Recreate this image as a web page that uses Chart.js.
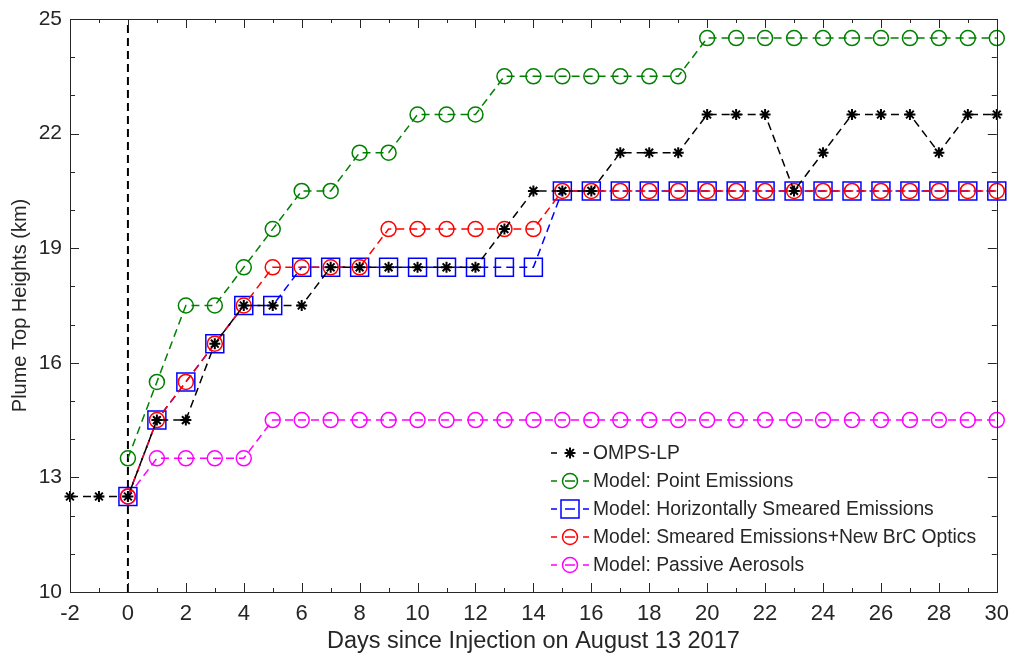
<!DOCTYPE html>
<html>
<head>
<meta charset="utf-8">
<script src="https://cdn.jsdelivr.net/npm/chart.js@4/dist/chart.umd.min.js"></script>
<style>
  html, body { margin: 0; padding: 0; background: #fff; }
  #wrap { width: 1011px; height: 656px; }
</style>
</head>
<body>
<div id="wrap"><canvas id="c" width="1011" height="656"></canvas></div>
<script>
// days relative to injection on Aug 13 2017
const obsDays = [-2, -1, 0, 1, 2, 3, 4, 5, 6, 7, 8, 9, 10, 11, 12, 13, 14, 15, 16,
                 17, 18, 19, 20, 21, 22, 23, 24, 25, 26, 27, 28, 29, 30];
const modelDays = [0, 1, 2, 3, 4, 5, 6, 7, 8, 9, 10, 11, 12, 13, 14, 15, 16,
                   17, 18, 19, 20, 21, 22, 23, 24, 25, 26, 27, 28, 29, 30];

// plume top heights (km)
const ompsLP = [12.5, 12.5, 12.5, 14.5, 14.5, 16.5, 17.5, 17.5, 17.5, 18.5, 18.5,
                18.5, 18.5, 18.5, 18.5, 19.5, 20.5, 20.5, 20.5, 21.5, 21.5, 21.5,
                22.5, 22.5, 22.5, 20.5, 21.5, 22.5, 22.5, 22.5, 21.5, 22.5, 22.5];
const pointEmissions = [13.5, 15.5, 17.5, 17.5, 18.5, 19.5, 20.5, 20.5, 21.5, 21.5,
                        22.5, 22.5, 22.5, 23.5, 23.5, 23.5, 23.5, 23.5, 23.5, 23.5,
                        24.5, 24.5, 24.5, 24.5, 24.5, 24.5, 24.5, 24.5, 24.5, 24.5, 24.5];
const smearedEmissions = [12.5, 14.5, 15.5, 16.5, 17.5, 17.5, 18.5, 18.5, 18.5, 18.5,
                          18.5, 18.5, 18.5, 18.5, 18.5, 20.5, 20.5, 20.5, 20.5, 20.5,
                          20.5, 20.5, 20.5, 20.5, 20.5, 20.5, 20.5, 20.5, 20.5, 20.5, 20.5];
const smearedBrC = [12.5, 14.5, 15.5, 16.5, 17.5, 18.5, 18.5, 18.5, 18.5, 19.5,
                    19.5, 19.5, 19.5, 19.5, 19.5, 20.5, 20.5, 20.5, 20.5, 20.5,
                    20.5, 20.5, 20.5, 20.5, 20.5, 20.5, 20.5, 20.5, 20.5, 20.5, 20.5];
const passiveAerosols = [12.5, 13.5, 13.5, 13.5, 13.5, 14.5, 14.5, 14.5, 14.5, 14.5,
                         14.5, 14.5, 14.5, 14.5, 14.5, 14.5, 14.5, 14.5, 14.5, 14.5,
                         14.5, 14.5, 14.5, 14.5, 14.5, 14.5, 14.5, 14.5, 14.5, 14.5, 14.5];

const seriesLabels = ['OMPS-LP', 'Model: Point Emissions', 'Model: Horizontally Smeared Emissions',
                      'Model: Smeared Emissions+New BrC Optics', 'Model: Passive Aerosols'];

const xMin = -2, xMax = 30, yMin = 10, yMax = 25;
const injectionDay = 0;

const AXIS = '#262626';
const FONT = '"Liberation Sans", Arial, sans-serif';
const DASH = [8, 5];

const toXY = (xs, ys) => xs.map((x, i) => ({ x: x, y: ys[i] }));

const legendItems = [
  { label: seriesLabels[0], color: '#000000', marker: 'star' },
  { label: seriesLabels[1], color: '#008000', marker: 'circle' },
  { label: seriesLabels[2], color: '#0000ff', marker: 'rect' },
  { label: seriesLabels[3], color: '#ff0000', marker: 'circle' },
  { label: seriesLabels[4], color: '#ff00ff', marker: 'circle' }
];

function drawMarker(ctx, type, x, y, color) {
  ctx.save();
  ctx.strokeStyle = color;
  ctx.setLineDash([]);
  ctx.beginPath();
  if (type === 'circle') {
    ctx.lineWidth = 1.5;
    ctx.arc(x, y, 7.5, 0, Math.PI * 2);
  } else if (type === 'rect') {
    ctx.lineWidth = 1.5;
    ctx.rect(x - 9, y - 9, 18, 18);
  } else {
    ctx.lineWidth = 2;
    const r = 5.5, d = r * Math.SQRT1_2;
    ctx.moveTo(x - r, y); ctx.lineTo(x + r, y);
    ctx.moveTo(x, y - r); ctx.lineTo(x, y + r);
    ctx.moveTo(x - d, y - d); ctx.lineTo(x + d, y + d);
    ctx.moveTo(x - d, y + d); ctx.lineTo(x + d, y - d);
  }
  ctx.stroke();
  ctx.restore();
}

// MATLAB style box with inward ticks, plus the in-axes legend
const boxAxes = {
  id: 'boxAxes',
  afterDraw(chart) {
    const ctx = chart.ctx;
    const a = chart.chartArea;
    const xs = chart.scales.x, ys = chart.scales.y;
    ctx.save();
    ctx.strokeStyle = AXIS;
    ctx.lineWidth = 1;
    ctx.strokeRect(Math.round(a.left) + 0.5, Math.round(a.top) + 0.5,
                   Math.round(a.right - a.left), Math.round(a.bottom - a.top));
    ctx.beginPath();
    for (let v = xMin; v <= xMax; v++) {
      const px = Math.round(xs.getPixelForValue(v)) + 0.5;
      const len = v % 2 === 0 ? 9 : 4;
      ctx.moveTo(px, a.bottom); ctx.lineTo(px, a.bottom - len);
      ctx.moveTo(px, a.top); ctx.lineTo(px, a.top + len);
    }
    for (let v = yMin; v <= yMax; v++) {
      const py = Math.round(ys.getPixelForValue(v)) + 0.5;
      const len = (v - yMin) % 3 === 0 ? 9 : 5;
      ctx.moveTo(a.left, py); ctx.lineTo(a.left + len, py);
      ctx.moveTo(a.right, py); ctx.lineTo(a.right - len, py);
    }
    ctx.stroke();

    // legend
    const lx = 551, ly0 = 453, step = 28;
    ctx.font = '19.3px ' + FONT;
    ctx.textBaseline = 'middle';
    ctx.textAlign = 'left';
    legendItems.forEach((it, i) => {
      const y = ly0 + i * step;
      ctx.strokeStyle = it.color;
      ctx.lineWidth = 1.5;
      ctx.beginPath();
      ctx.moveTo(lx, y); ctx.lineTo(lx + 6, y);
      if (it.marker !== 'star') { ctx.moveTo(lx + 14, y); ctx.lineTo(lx + 24, y); }
      ctx.moveTo(lx + 32, y); ctx.lineTo(lx + 38, y);
      ctx.stroke();
      drawMarker(ctx, it.marker, lx + 19, y, it.color);
      ctx.fillStyle = AXIS;
      ctx.fillText(it.label, 593, y + 1);
    });
    ctx.restore();
  }
};

const base = { showLine: true, fill: false, borderWidth: 1.5, borderDash: DASH,
               pointBackgroundColor: 'rgba(0,0,0,0)', clip: false, tension: 0 };

new Chart(document.getElementById('c'), {
  type: 'line',
  data: {
    datasets: [
      Object.assign({}, base, { label: seriesLabels[0], data: toXY(obsDays, ompsLP),
        borderColor: '#000000', pointBorderColor: '#000000', pointStyle: 'star',
        pointRadius: 5.5, pointBorderWidth: 2 }),
      Object.assign({}, base, { label: seriesLabels[3], data: toXY(modelDays, smearedBrC),
        borderColor: '#ff0000', pointBorderColor: '#ff0000', pointStyle: 'circle',
        pointRadius: 7.5, pointBorderWidth: 1.5 }),
      Object.assign({}, base, { label: seriesLabels[2], data: toXY(modelDays, smearedEmissions),
        borderColor: '#0000ff', pointBorderColor: '#0000ff', pointStyle: 'rect',
        pointRadius: 12.7, pointBorderWidth: 1.5 }),
      Object.assign({}, base, { label: seriesLabels[1], data: toXY(modelDays, pointEmissions),
        borderColor: '#008000', pointBorderColor: '#008000', pointStyle: 'circle',
        pointRadius: 7.5, pointBorderWidth: 1.5 }),
      Object.assign({}, base, { label: seriesLabels[4], data: toXY(modelDays, passiveAerosols),
        borderColor: '#ff00ff', pointBorderColor: '#ff00ff', pointStyle: 'circle',
        pointRadius: 7.5, pointBorderWidth: 1.5 }),
      Object.assign({}, base, { label: 'injection', data: [{ x: injectionDay, y: yMin }, { x: injectionDay, y: yMax }],
        borderColor: '#000000', borderWidth: 2, pointRadius: 0 })
    ]
  },
  options: {
    responsive: false,
    maintainAspectRatio: false,
    animation: false,
    events: [],
    layout: { padding: { top: 19, right: 14, left: 0, bottom: 0 } },
    plugins: { legend: { display: false }, tooltip: { enabled: false } },
    scales: {
      x: {
        type: 'linear', min: xMin, max: xMax,
        grid: { display: false, drawTicks: false },
        border: { display: false },
        ticks: { stepSize: 2, color: AXIS, font: { family: FONT, size: 22 }, padding: 9, maxRotation: 0 },
        title: { display: true, text: 'Days since Injection on August 13 2017', color: AXIS,
                 font: { family: FONT, size: 23.5 }, padding: { top: 0, bottom: 0 } },
        afterFit(s) { s.height = 64; s.paddingLeft = 0; s.paddingRight = 0; }
      },
      y: {
        type: 'linear', min: yMin, max: yMax,
        grid: { display: false, drawTicks: false },
        border: { display: false },
        ticks: { stepSize: 3, color: AXIS, font: { family: FONT, size: 21 }, padding: 8 },
        title: { display: true, text: 'Plume Top Heights (km)', color: AXIS,
                 font: { family: FONT, size: 20 }, padding: { top: 8, bottom: 0 } },
        afterFit(s) { s.width = 70; s.paddingTop = 0; s.paddingBottom = 0; }
      }
    }
  },
  plugins: [boxAxes]
});
</script>
</body>
</html>
